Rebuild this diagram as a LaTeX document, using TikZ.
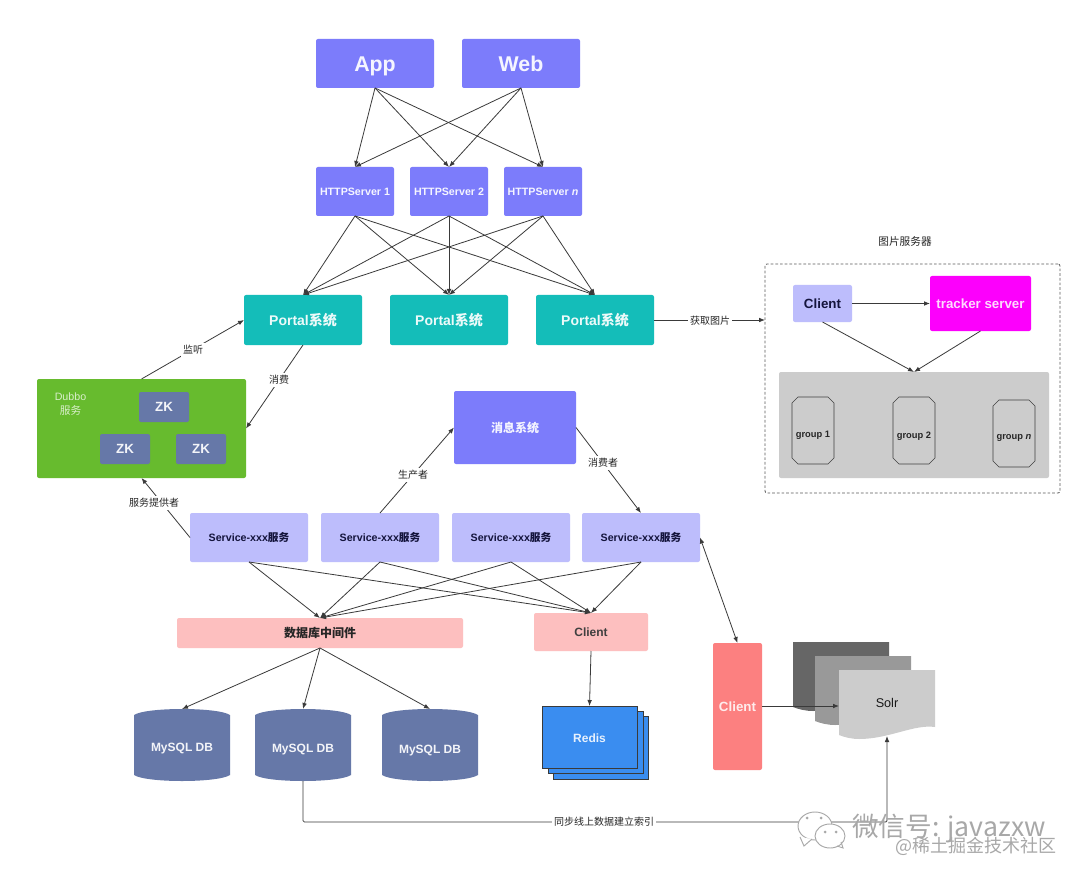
\documentclass[tikz,border=0pt]{standalone}
\usepackage{fontspec}
\setmainfont{Liberation Sans}
\newfontfamily\cjk{Noto Sans CJK SC}
\usetikzlibrary{arrows.meta}
\newcommand{\slantn}{{\itshape n}}
\definecolor{cpurple}{HTML}{7C7CFB}
\definecolor{cteal}{HTML}{14BDB9}
\definecolor{cgreen}{HTML}{67BB2E}
\definecolor{czk}{HTML}{6678A8}
\definecolor{clav}{HTML}{BDBDFC}
\definecolor{cpink}{HTML}{FDBFBF}
\definecolor{csalmon}{HTML}{FC8080}
\definecolor{cmag}{HTML}{FC00FC}
\definecolor{credis}{HTML}{3A8DF0}
\definecolor{cline}{HTML}{3A3A3A}
\definecolor{cink}{HTML}{14143C}
\definecolor{cwm}{HTML}{A8A8A8}
\tikzset{
  x=0.75pt,y=-0.75pt,
  box/.style 2 args={rectangle,rounded corners=1.5pt,inner sep=0pt,outer sep=0pt,
    minimum width=#1*0.75pt,minimum height=#2*0.75pt,align=center},
  appbox/.style={box={118}{49},fill=cpurple,text=white!92!cpurple,text height=11.5pt,text depth=0pt,font=\bfseries\fontsize{16}{18}\selectfont},
  httpbox/.style={box={78}{49},fill=cpurple,text=white!92!cpurple,font=\bfseries\fontsize{8}{10}\selectfont},
  portalbox/.style={box={118}{50},fill=cteal,text=white!92!cteal,font=\bfseries\fontsize{10.5}{12}\selectfont},
  zkbox/.style={box={50}{30},fill=czk,text=white!92!czk,font=\bfseries\fontsize{10}{11}\selectfont},
  svcbox/.style={box={118}{49},fill=clav,text=cink,font=\bfseries\fontsize{8}{10}\selectfont},
  dbbox/.style={box={96}{72},text=white!92!czk,font=\bfseries\fontsize{9}{11}\selectfont},
  grp/.style={box={42}{67},text=black!85,font=\bfseries\fontsize{7}{8}\selectfont},
  conn/.style={draw=cline,line width=0.6pt,-{Latex[length=4.5pt,width=3.5pt]}},
  lbl/.style={fill=white,inner sep=1.5pt,text=black!85,font=\cjk\fontsize{7.5}{9}\selectfont},
  wm/.style={text=cwm,inner sep=0pt},
}
\begin{document}
\begin{tikzpicture}
\useasboundingbox (0,0) rectangle (1080,880);
\fill[white] (0,0) rectangle (1080,880);

% Clients
\node[appbox] (app) at (375,63.5) {App};
\node[appbox] (web) at (521,63.5) {Web};
\node[httpbox] (h1) at (355,191.5) {HTTPServer 1};
\node[httpbox] (h2) at (449,191.5) {HTTPServer 2};
\node[httpbox] (h3) at (543,191.5) {HTTPServer \slantn};
\node[portalbox] (p1) at (303,320) {Portal{\cjk 系统}};
\node[portalbox] (p2) at (449,320) {Portal{\cjk 系统}};
\node[portalbox] (p3) at (595,320) {Portal{\cjk 系统}};

\foreach \a in {app,web}\foreach \b in {h1,h2,h3}\draw[conn] (\a.south) -- (\b.north);
\foreach \a in {h1,h2,h3}\foreach \b in {p1,p2,p3}\draw[conn] (\a.south) -- (\b.north);

% Dubbo
\node[box={209}{99},fill=cgreen] (dubbo) at (141.5,428.5) {};
\node[text=white!75!cgreen,inner sep=0pt,align=center,font=\fontsize{8}{10.5}\selectfont] (dubbolbl) at (70.5,404.5) {Dubbo\\{\cjk 服务}};
\node[zkbox] (zk1) at (164,407) {ZK};
\node[zkbox] (zk2) at (125,449) {ZK};
\node[zkbox] (zk3) at (201,449) {ZK};

% Message and services
\node[box={122}{73},fill=cpurple,text=white!92!cpurple,font=\cjk\bfseries\fontsize{9}{11}\selectfont] (msg) at (515,427.5) {消息系统};
\node[svcbox] (s1) at (249,537.5) {Service-xxx{\cjk 服务}};
\node[svcbox] (s2) at (380,537.5) {Service-xxx{\cjk 服务}};
\node[svcbox] (s3) at (511,537.5) {Service-xxx{\cjk 服务}};
\node[svcbox] (s4) at (641,537.5) {Service-xxx{\cjk 服务}};

\draw[conn] (dubbo.north) -- (p1.west);
\draw[conn] (p1.south) -- (dubbo.east);
\draw[conn] (s1.west) -- (dubbo.south);
\draw[conn] (s2.north) -- (msg.west);
\draw[conn] (msg.east) -- (s4.north);
\node[lbl] (l1) at (193,350) {监听};
\node[lbl] (l2) at (279,380) {消费};
\node[lbl] (l3) at (154,503) {服务提供者};
\node[lbl] (l4) at (413,475) {生产者};
\node[lbl] (l5) at (603,463) {消费者};

% Middleware
\node[box={286}{30},fill=cpink,text=black!85,font=\cjk\bfseries\fontsize{9}{11}\selectfont] (mid) at (320,633) {数据库中间件};
\node[box={114}{38},fill=cpink,text=black!75,font=\bfseries\fontsize{9}{11}\selectfont] (cl) at (591,632) {Client};
\foreach \a in {s1,s2,s3,s4}{
  \draw[conn] (\a.south) -- (mid.north);
  \draw[conn] (\a.south) -- (cl.north);
}

% Databases
\foreach \n/\cx/\tx in {db1/182/749,db2/303/750,db3/430/751}{
  \fill[czk] (\cx-48,715) .. controls (\cx-36,707) and (\cx+36,707) .. (\cx+48,715)
    -- (\cx+48,775) .. controls (\cx+36,783) and (\cx-36,783) .. (\cx-48,775) -- cycle;
  \node[dbbox] (\n) at (\cx,745) {};
  \node[dbbox,minimum height=0pt] (\n txt) at (\cx,\tx) {MySQL DB};
}
\foreach \b in {db1,db2,db3}\draw[conn] (mid.south) -- (\b.north);

% Redis
\draw[cline,line width=0.5pt,fill=credis] (553,716) rectangle (648,779);
\draw[cline,line width=0.5pt,fill=credis] (548,711) rectangle (643,773);
\node[box={95}{62},draw=cline,line width=0.5pt,rounded corners=0pt,fill=credis] (redis) at (589.5,737) {};
\node[inner sep=0pt,text=white!88!credis,font=\bfseries\fontsize{9}{10}\selectfont] (redistxt) at (589.5,738.5) {Redis};
\draw[conn] (cl.south) -- (redis.north);

% Search
\node[box={49}{127},fill=csalmon,text=white!85!csalmon,font=\bfseries\fontsize{10}{11}\selectfont] (c2) at (737.5,706.5) {Client};
\draw[draw=cline,line width=0.6pt,{Latex[length=4.5pt,width=3.5pt]}-{Latex[length=4.5pt,width=3.5pt]}] (s4.east) -- (c2.north);
\foreach \xo/\yo/\col in {793/642/666666,815/656/999999,839/670/CCCCCC}{
  \definecolor{tmpc}{HTML}{\col}
  \fill[tmpc] (\xo,\yo) -- (\xo+96,\yo) -- (\xo+96,\yo+57)
    .. controls (\xo+75,\yo+54) and (\xo+50,\yo+69) .. (\xo+20,\yo+69)
    .. controls (\xo+12,\yo+69) and (\xo+5,\yo+67) .. (\xo,\yo+65) -- cycle;
}
\node[inner sep=0pt,outer sep=0pt,minimum width=72pt,minimum height=50pt,text=black!90,font=\fontsize{9.5}{11}\selectfont] (solr) at (887,703) {Solr};
\coordinate (solrin) at (839,706);
\draw[conn] (c2.east |- solrin) -- (solrin);
\coordinate (solrbot) at (887,736);
\coordinate (corner) at (303,822);
\draw[conn,rounded corners=1pt] (db2.south) -- (corner) -- (corner -| solrbot) -- (solrbot);
\node[lbl] (l6) at (604,822) {同步线上数据建立索引};

% Image server
\node[inner sep=0pt,text=black!85,font=\cjk\fontsize{8}{9}\selectfont] (imgtitle) at (905,241) {图片服务器};
\node[box={295}{229},draw=black!65,line width=0.6pt,dash pattern=on 2pt off 1.5pt] (imgsrv) at (912.5,378.5) {};
\draw[conn] (p3.east) -- (imgsrv.west |- p3.east);
\node[lbl] (l7) at (710,321) {获取图片};
\node[box={59}{37},fill=clav,text=cink,font=\bfseries\fontsize{10}{11}\selectfont] (icl) at (822.5,303.5) {Client};
\node[box={101}{55},fill=cmag,text=white!85!cmag,font=\bfseries\fontsize{10}{11}\selectfont] (trk) at (980.5,303.5) {tracker server};
\node[box={270}{106},fill=black!20] (stor) at (914,425) {};
\draw[conn] (icl.east) -- (trk.west);
\draw[conn] (icl.south) -- (stor.north);
\draw[conn] (trk.south) -- (stor.north);
\foreach \n/\cx/\cy/\ty/\t in {g1/813/430.5/435/group 1,g2/914/430.5/436.5/group 2,g3/1014/433.5/437.5/group \slantn}{
  \draw[black!75,line width=0.5pt] (\cx-15,\cy-33.5) -- (\cx+15,\cy-33.5) -- (\cx+21,\cy-27.5) -- (\cx+21,\cy+27.5)
    -- (\cx+15,\cy+33.5) -- (\cx-15,\cy+33.5) -- (\cx-21,\cy+27.5) -- (\cx-21,\cy-27.5) -- cycle;
  \node[grp,minimum height=0pt] (\n) at (\cx,\ty) {\t};
}

% Watermark
\draw[cwm,line width=0.7pt,fill=white] (815,826) ellipse [x radius=17,y radius=14];
\draw[cwm,line width=0.7pt,fill=white] (800,837) -- (804,846) -- (812,839);
\draw[cwm,line width=0.7pt,fill=white] (830,836) ellipse [x radius=15,y radius=12];
\draw[cwm,line width=0.7pt] (837,846) -- (843,848) -- (841,842);
\fill[cwm] (807,818) circle (1.5) (821,818) circle (1.5) (825,832) circle (1.5) (836,832) circle (1.5);
\node[wm,anchor=west,font=\cjk\fontsize{20}{22}\selectfont] (wm1) at (852,829) {微信号: javazxw};
\node[wm,anchor=west,font=\cjk\fontsize{13.5}{14}\selectfont] (wm2) at (895,846) {@稀土掘金技术社区};
\end{tikzpicture}
\end{document}
